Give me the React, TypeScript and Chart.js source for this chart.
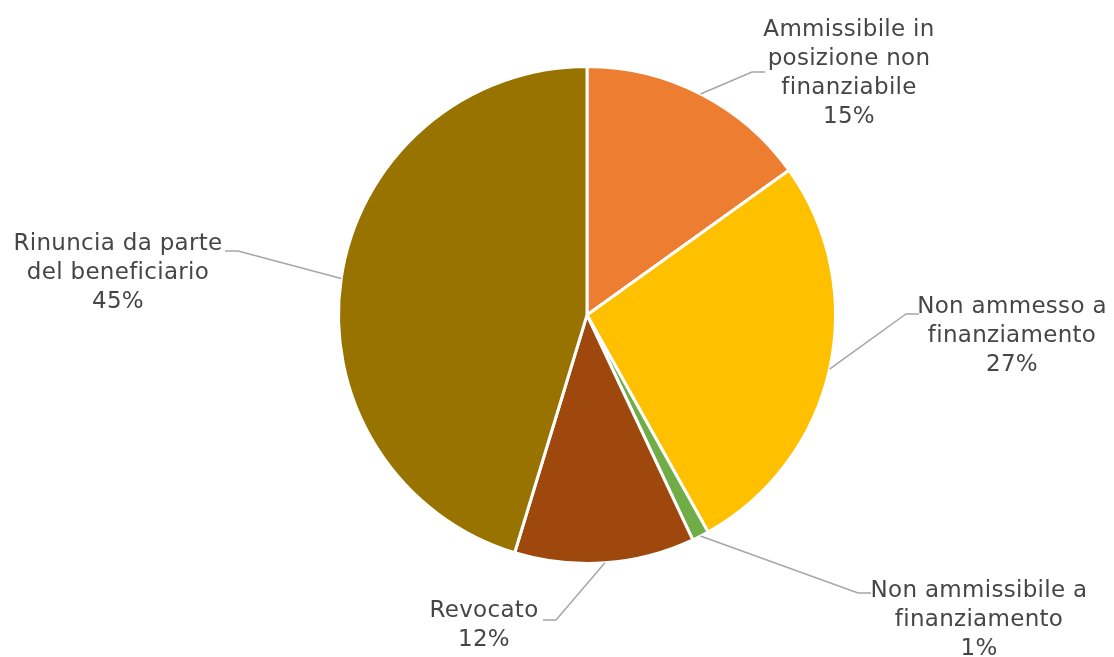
import { useEffect, useRef } from "react";
import { Chart, registerables } from "chart.js";

Chart.register(...registerables);

const categories = [
  "Ammissibile in posizione non finanziabile",
  "Non ammesso a finanziamento",
  "Non ammissibile a finanziamento",
  "Revocato",
  "Rinuncia da parte del beneficiario",
];
const labelLines = [
  ["Ammissibile in", "posizione non", "finanziabile"],
  ["Non ammesso a", "finanziamento"],
  ["Non ammissibile a", "finanziamento"],
  ["Revocato"],
  ["Rinuncia da parte", "del beneficiario"],
];
const values = [15.1, 26.8, 1.1, 11.7, 45.3];
const colors = ["#ED7D31", "#FFC000", "#70AD47", "#9E480E", "#997300"];

// label placement, offsets relative to the pie centre
const labelLayout = [
  { tx: 262, ty: -285, ex: 165, ey: -243, dir: 1 },
  { tx: 425, ty: -8, ex: 319, ey: -1, dir: 1 },
  { tx: 392, ty: 276, ex: 271, ey: 278, dir: 1 },
  { tx: -103, ty: 296, ex: -31, ey: 305, dir: -1 },
  { tx: -469, ty: -71, ex: -349, ey: -64, dir: -1 },
];

const FONT = '23px "DejaVu Sans"';
const LINE_H = 29;

const labelPlugin = {
  id: "calloutLabels",
  afterDatasetsDraw(chart: any) {
    const ctx = chart.ctx as CanvasRenderingContext2D;
    const meta = chart.getDatasetMeta(0);
    const total = values.reduce((a, b) => a + b, 0);
    meta.data.forEach((arc: any, i: number) => {
      const p = arc.getProps(["x", "y", "startAngle", "endAngle", "outerRadius"], true);
      const mid = (p.startAngle + p.endAngle) / 2;
      const sx = p.x + Math.cos(mid) * p.outerRadius;
      const sy = p.y + Math.sin(mid) * p.outerRadius;
      const L = labelLayout[i];
      const exx = p.x + L.ex;
      const eyy = p.y + L.ey;
      ctx.save();
      ctx.strokeStyle = "#A6A6A6";
      ctx.lineWidth = 1.5;
      ctx.beginPath();
      ctx.moveTo(sx, sy);
      ctx.lineTo(exx, eyy);
      ctx.lineTo(exx + 13 * L.dir, eyy);
      ctx.stroke();
      ctx.fillStyle = "#464646";
      ctx.font = FONT;
      (ctx as any).letterSpacing = "0.3px";
      ctx.textAlign = "center";
      ctx.textBaseline = "middle";
      const lines = [...labelLines[i], Math.round((values[i] / total) * 100) + "%"];
      lines.forEach((t, k) => {
        ctx.fillText(t, p.x + L.tx, p.y + L.ty + k * LINE_H);
      });
      ctx.restore();
    });
  },
};

export default function App() {
  const ref = useRef<HTMLCanvasElement>(null);
  useEffect(() => {
    document.body.style.margin = "0";
    const chart = new Chart(ref.current!, {
      type: "pie",
      data: {
        labels: categories,
        datasets: [
          {
            data: values,
            backgroundColor: colors,
            borderColor: "#FFFFFF",
            borderWidth: 3,
          },
        ],
      },
      options: {
        animation: false,
        responsive: true,
        maintainAspectRatio: false,
        layout: { padding: { left: 337, right: 277, top: 64, bottom: 91 } },
        plugins: {
          legend: { display: false },
          tooltip: { enabled: false },
        },
      },
      plugins: [labelPlugin],
    });
    return () => chart.destroy();
  }, []);
  return (
    <div style={{ position: "fixed", left: 0, top: 0, width: 1114, height: 657, background: "#fff" }}>
      <canvas ref={ref} />
    </div>
  );
}
